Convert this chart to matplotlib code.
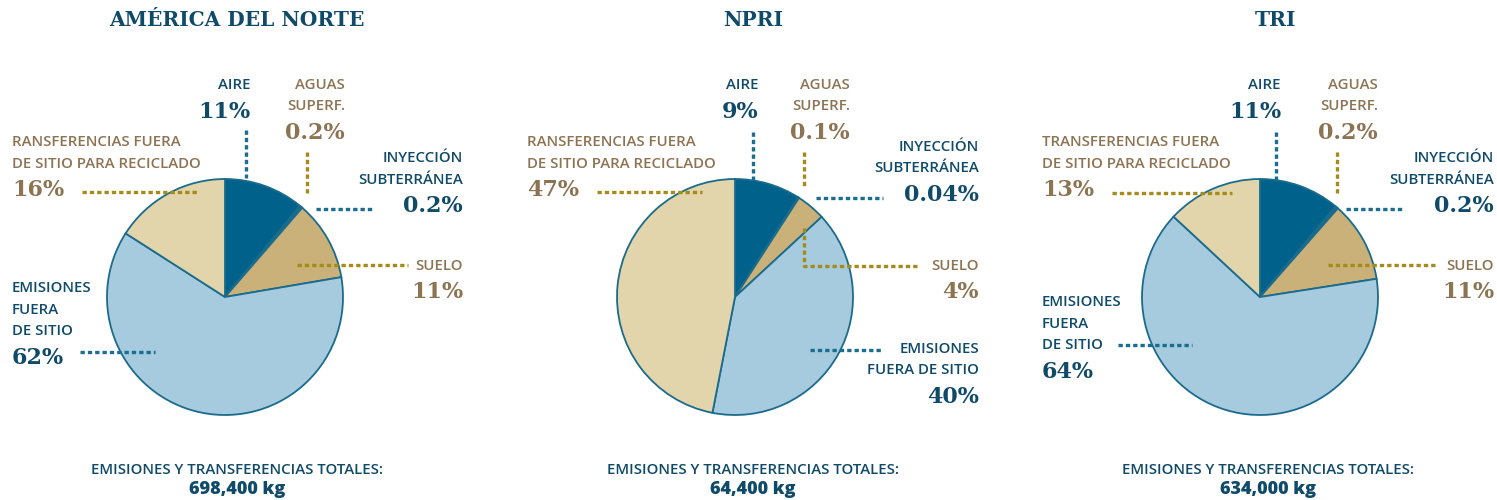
import numpy as np
import matplotlib.pyplot as plt

# data
titles = ['AMÉRICA DEL NORTE', 'NPRI', 'TRI']
categories = ['Aire', 'Aguas superf.', 'Inyección subterránea', 'Suelo',
              'Emisiones fuera de sitio', 'Transferencias para reciclado']
na_vals = [11, 0.2, 0.2, 11, 62, 16]
npri_vals = [9, 0.1, 0.04, 4, 40, 47]
tri_vals = [11, 0.2, 0.2, 11, 64, 13]
totals = ['698,400 kg', '64,400 kg', '634,000 kg']
pct_labels = [['11%', '0.2%', '0.2%', '11%', '62%', '16%'],
              ['9%', '0.1%', '0.04%', '4%', '40%', '47%'],
              ['11%', '0.2%', '0.2%', '11%', '64%', '13%']]

BLUE_D = '#00628a'
TAN = '#c9b179'
BLUE_L = '#a6cade'
BEIGE = '#e2d4ab'
colors = [BLUE_D, TAN, BLUE_D, TAN, BLUE_L, BEIGE]
EDGE = '#1b6b8c'
TXT_B = '#0f4b69'
TXT_T = '#8c7352'
LN_B = '#1b6e90'
LN_G = '#a48b1c'

SANS = 'Open Sans'
SERIF = 'DejaVu Serif'

fig = plt.figure(figsize=(14.97, 5), dpi=100)
ax = fig.add_axes([0, 0, 1, 1])

H = 500
def Y(y):
    return H - y

centers = [(225, 297), (735, 297), (1260, 297)]
R = 118
for vals, (cx, cy) in zip([na_vals, npri_vals, tri_vals], centers):
    ax.pie(vals, colors=colors, startangle=90, counterclock=False,
           center=(cx, Y(cy)), radius=R,
           wedgeprops=dict(edgecolor=EDGE, linewidth=1.3))

def lab(x, y, lines, pct, color, ha):
    for i, s in enumerate(lines):
        ax.text(x, Y(y + i * 21.5), s, ha=ha, va='center', color=color,
                family=SANS, fontsize=10.8, fontweight='semibold')
    yp = y + len(lines) * 21.5 + 5
    ax.text(x, Y(yp), pct, ha=ha, va='center', color=color,
            family=SERIF, fontsize=16, fontweight='bold')

def lead(xs, ys, color):
    ax.plot(xs, [Y(v) for v in ys], color=color, lw=2.4,
            dashes=(1.3, 0.9), solid_capstyle='butt')

# layout: label anchors and leader lines per chart
layouts = [
    dict(aire=(250, 85), aguas=(345, 85), iny=(463, 158), trans=(12, 142),
         suelo=(463, 266), emis=(12, 288), emis_lines=['EMISIONES', 'FUERA', 'DE SITIO'],
         emis_ha='left', trans_first='RANSFERENCIAS FUERA',
         leads=[([246, 246], [130, 178], LN_B), ([307, 307], [152, 193], LN_G),
                ([316, 372], [209, 209], LN_B), ([82, 197], [192, 192], LN_G),
                ([297, 408], [265, 265], LN_G), ([80, 155], [352, 352], LN_B)]),
    dict(aire=(758, 85), aguas=(850, 85), iny=(979, 147), trans=(527, 142),
         suelo=(979, 266), emis=(979, 349), emis_lines=['EMISIONES', 'FUERA DE SITIO'],
         emis_ha='right', trans_first='RANSFERENCIAS FUERA',
         leads=[([753, 753], [132, 180], LN_B), ([804, 804], [152, 186], LN_G),
                ([816, 883], [198, 198], LN_B), ([597, 702], [192, 192], LN_G),
                ([804, 804, 917], [228, 266, 266], LN_G), ([810, 882], [350, 350], LN_B)]),
    dict(aire=(1281, 85), aguas=(1378, 85), iny=(1494, 158), trans=(1042, 142),
         suelo=(1494, 266), emis=(1042, 302), emis_lines=['EMISIONES', 'FUERA', 'DE SITIO'],
         emis_ha='left', trans_first='TRANSFERENCIAS FUERA',
         leads=[([1276, 1276], [132, 180], LN_B), ([1337, 1337], [152, 193], LN_G),
                ([1346, 1403], [209, 209], LN_B), ([1112, 1232], [193, 193], LN_G),
                ([1328, 1438], [265, 265], LN_G), ([1118, 1192], [345, 345], LN_B)]),
]

title_x = [237, 753, 1268]
for k, L in enumerate(layouts):
    p = pct_labels[k]
    lab(*L['aire'], ['AIRE'], p[0], TXT_B, 'right')
    lab(*L['aguas'], ['AGUAS', 'SUPERF.'], p[1], TXT_T, 'right')
    lab(*L['iny'], ['INYECCIÓN', 'SUBTERRÁNEA'], p[2], TXT_B, 'right')
    lab(*L['trans'], [L['trans_first'], 'DE SITIO PARA RECICLADO'], p[5], TXT_T, 'left')
    lab(*L['suelo'], ['SUELO'], p[3], TXT_T, 'right')
    lab(*L['emis'], L['emis_lines'], p[4], TXT_B, L['emis_ha'])
    for xs, ys, c in L['leads']:
        lead(xs, ys, c)
    ax.text([237, 753, 1275][k], Y(20), titles[k], ha='center', va='center', color=TXT_B,
            family=SERIF, fontsize=14.5, fontweight='heavy')
    ax.text(title_x[k], Y(470), 'EMISIONES Y TRANSFERENCIAS TOTALES:', ha='center',
            va='center', color=TXT_B, family=SANS, fontsize=10.8, fontweight='semibold')
    ax.text(title_x[k], Y(490), totals[k], ha='center', va='center', color=TXT_B,
            family=SANS, fontsize=13, fontweight='heavy')

ax.set_xlim(0, 1497)
ax.set_ylim(0, H)
ax.set_aspect('equal')
ax.axis('off')
fig.savefig('out.png', dpi=100, facecolor='white')
